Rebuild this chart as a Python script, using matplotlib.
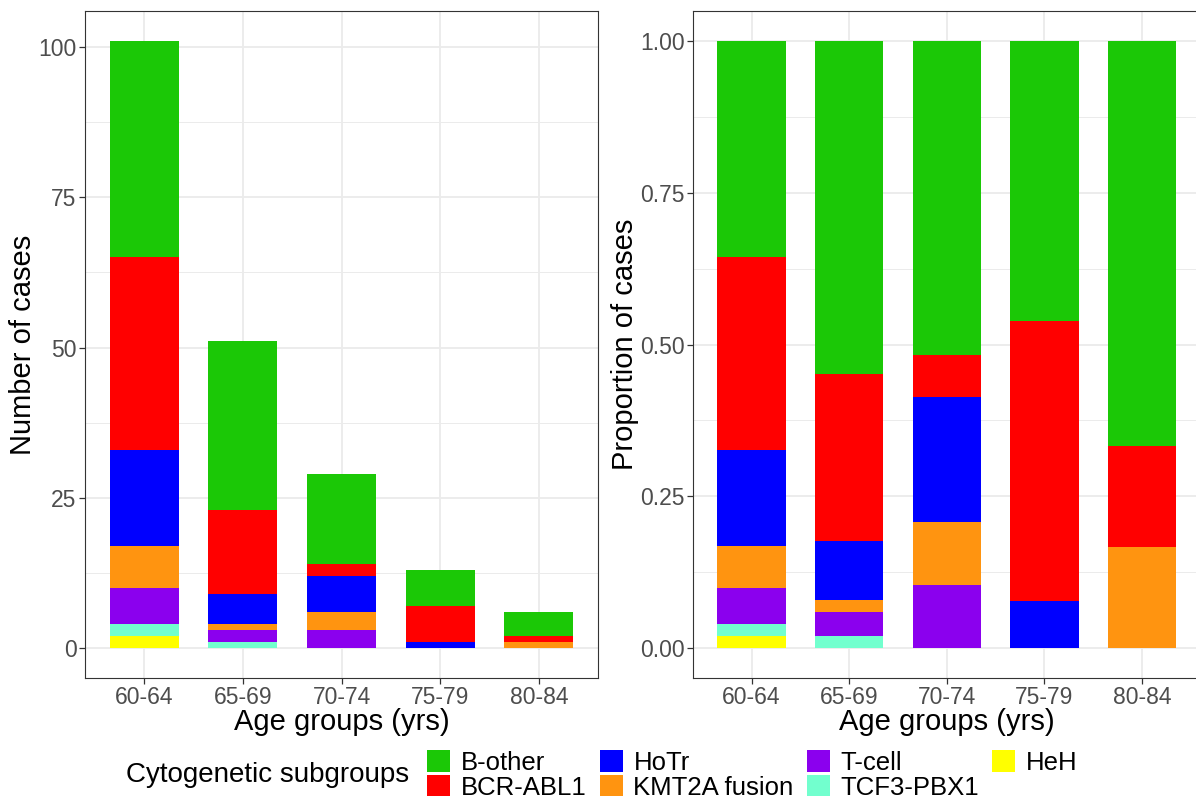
import numpy as np
import matplotlib
matplotlib.use("Agg")
import matplotlib.pyplot as plt
from matplotlib.ticker import FixedLocator

plt.rcParams["font.family"] = ["Liberation Sans", "DejaVu Sans"]

age_groups = ["60-64", "65-69", "70-74", "75-79", "80-84"]

# case counts per subgroup, stacking order bottom -> top
subgroups = ["HeH", "TCF3-PBX1", "T-cell", "KMT2A fusion", "HoTr", "BCR-ABL1", "B-other"]
heh = [2, 0, 0, 0, 0]
tcf3_pbx1 = [2, 1, 0, 0, 0]
t_cell = [6, 2, 3, 0, 0]
kmt2a = [7, 1, 3, 0, 1]
hotr = [16, 5, 6, 1, 0]
bcr_abl1 = [32, 14, 2, 6, 1]
b_other = [36, 28, 15, 6, 4]

colors = {
    "B-other": "#1BC806",
    "BCR-ABL1": "#FF0000",
    "HoTr": "#0000FF",
    "KMT2A fusion": "#FF9410",
    "T-cell": "#8B00EE",
    "TCF3-PBX1": "#72FFCE",
    "HeH": "#FFFF00",
}
legend_order = ["B-other", "BCR-ABL1", "HoTr", "KMT2A fusion", "T-cell", "TCF3-PBX1", "HeH"]

counts = np.array([heh, tcf3_pbx1, t_cell, kmt2a, hotr, bcr_abl1, b_other], dtype=float)
props = counts / counts.sum(axis=0)

W, H = 1196, 798
fig = plt.figure(figsize=(W / 100, H / 100), dpi=100)
ax1 = fig.add_axes([85 / W, 1 - 678 / H, 513 / W, 667 / H])
ax2 = fig.add_axes([693 / W, 1 - 678 / H, 507.6 / W, 667 / H])

x = np.arange(1, len(age_groups) + 1)
tick_col = "#4D4D4D"
title_fs = 21
tick_fs = 16.5
leg_fs = 18.5


def stacked(ax, data):
    handles = {}
    bottom = np.zeros(len(age_groups))
    for name, row in zip(subgroups, data):
        b = ax.bar(x, row, bottom=bottom, width=0.7, color=colors[name],
                   linewidth=0, zorder=3, label=name)
        handles[name] = b
        bottom += row
    return handles


def style(ax, ymax, major, minor, fmt):
    ax.set_xlim(0.4, 5.6)
    ax.set_ylim(-0.05 * ymax, 1.05 * ymax)
    ax.set_xticks(x)
    ax.set_xticklabels(age_groups)
    ax.set_yticks(major)
    ax.set_yticklabels([fmt(v) for v in major])
    ax.yaxis.set_minor_locator(FixedLocator(minor))
    ax.grid(True, which="major", color="#EBEBEB", linewidth=1.3, zorder=0)
    ax.grid(True, which="minor", axis="y", color="#EBEBEB", linewidth=0.7, zorder=0)
    ax.set_axisbelow(True)
    for s in ax.spines.values():
        s.set_color("#333333")
        s.set_linewidth(0.8)
    ax.tick_params(which="major", length=4, width=0.9, color="#333333",
                   labelsize=tick_fs, labelcolor=tick_col, pad=2)
    ax.tick_params(which="minor", length=0)
    ax.set_xlabel("Age groups (yrs)", fontsize=title_fs, labelpad=-1)


handles = stacked(ax1, counts)
stacked(ax2, props)

style(ax1, 101, [0, 25, 50, 75, 100], [12.5, 37.5, 62.5, 87.5], lambda v: f"{v:g}")
style(ax2, 1.0, [0, 0.25, 0.5, 0.75, 1.0], [0.125, 0.375, 0.625, 0.875], lambda v: f"{v:.2f}")
ax1.set_ylabel("Number of cases", fontsize=title_fs, labelpad=1)
ax2.set_ylabel("Proportion of cases", fontsize=title_fs, labelpad=1)

# legend at the bottom, title to the left of the keys
fig.text(126 / W, 1 - 775 / H, "Cytogenetic subgroups", fontsize=20,
         ha="left", va="center")
fig.legend([handles[n] for n in legend_order], legend_order, ncol=4,
           loc="center left", bbox_to_anchor=(427 / W, 1 - 775 / H),
           frameon=False, fontsize=leg_fs, handlelength=0.9, handleheight=0.9,
           handletextpad=0.42, labelspacing=0.0, columnspacing=0.5,
           borderaxespad=0, borderpad=0)

fig.savefig("out.png", dpi=100)
